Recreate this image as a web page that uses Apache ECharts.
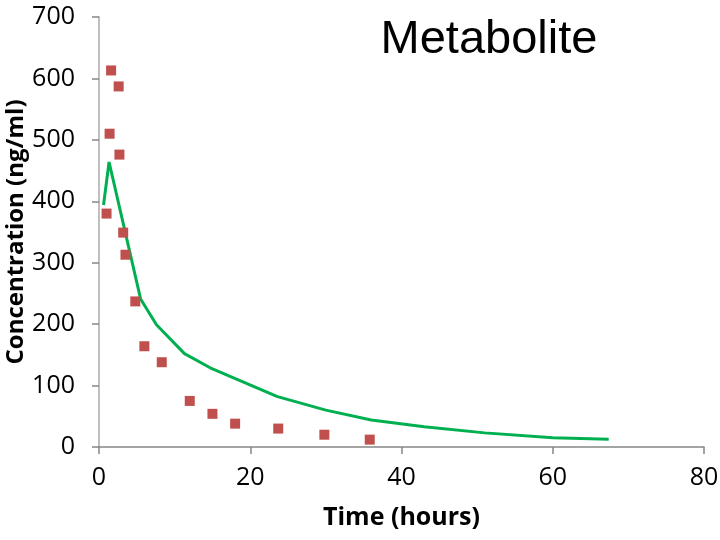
<!DOCTYPE html>
<html>
<head>
<meta charset="utf-8">
<script src="https://cdn.jsdelivr.net/npm/echarts@6/dist/echarts.min.js"></script>
<style>
  html, body { margin: 0; padding: 0; background: #fff; }
  #chart { width: 720px; height: 540px; }
</style>
</head>
<body>
<div id="chart"></div>
<script>
// observed concentrations (red squares)
const obsTime = [1, 1.4, 1.6, 2.6, 2.7, 3.2, 3.5, 4.8, 6, 8.3, 12, 15, 18, 23.7, 29.8, 35.8];
const obsConc = [380, 510, 613, 587, 476, 349, 313, 237, 164, 138, 75, 54, 38, 30, 20, 12];

// model curve (green line)
const fitTime = [0.6, 1.33, 5.5, 7.6, 11.3, 14.7, 23.6, 30, 36, 43, 51, 60, 67.4];
const fitConc = [394, 464, 241, 199, 152, 129, 82, 60, 44, 33, 23, 15, 12.5];

const yTicks = [0, 100, 200, 300, 400, 500, 600, 700];
const xTicks = [0, 20, 40, 60, 80];

const chart = echarts.init(document.getElementById("chart"));

const labelFont = {
  color: "#000",
  fontFamily: "Open Sans",
  fontSize: 25,
};

const nameFont = {
  fontFamily: "Open Sans",
  fontWeight: "bold",
  fontSize: 24,
  color: "#000",
};

const option = {
  animation: false,
  title: {
    text: "Metabolite",
    left: 484,
    top: 12,
    textAlign: "center",
    textStyle: {
      fontFamily: "Liberation Sans",
      fontWeight: "normal",
      fontSize: 47,
      color: "#000",
    },
  },
  grid: {
    left: 99,
    right: 16,
    top: 17,
    bottom: 93,
    outerBoundsMode: "none",
  },
  xAxis: {
    type: "value",
    min: xTicks[0],
    max: xTicks[xTicks.length - 1],
    interval: 20,
    name: "Time (hours)",
    nameLocation: "middle",
    nameGap: 58,
    nameMoveOverlap: false,
    nameTextStyle: { ...nameFont, fontSize: 25 },
    axisLine: { lineStyle: { color: "#868686", width: 1.5 } },
    axisTick: { show: true, length: 7, lineStyle: { color: "#868686", width: 1.5 } },
    axisLabel: { ...labelFont, margin: 18 },
    splitLine: { show: false },
  },
  yAxis: {
    type: "value",
    min: yTicks[0],
    max: yTicks[yTicks.length - 1],
    interval: 100,
    name: "Concentration (ng/ml)",
    nameLocation: "middle",
    nameGap: 71,
    nameMoveOverlap: false,
    nameTextStyle: nameFont,
    axisLine: { show: true, lineStyle: { color: "#bfbfbf", width: 2 } },
    axisTick: { show: true, length: 7, lineStyle: { color: "#868686", width: 1.5 } },
    axisLabel: { ...labelFont, margin: 24 },
    splitLine: { show: false },
  },
  series: [
    {
      name: "Model",
      type: "line",
      data: fitTime.map((t, i) => [t, fitConc[i]]),
      showSymbol: false,
      lineStyle: { color: "#00b050", width: 3 },
      itemStyle: { color: "#00b050" },
      z: 2,
    },
    {
      name: "Observed",
      type: "scatter",
      data: obsTime.map((t, i) => [t, obsConc[i]]),
      symbol: "rect",
      symbolSize: 10,
      itemStyle: { color: "#c0504d", opacity: 1 },
      z: 3,
    },
  ],
};

chart.setOption(option);
</script>
</body>
</html>
